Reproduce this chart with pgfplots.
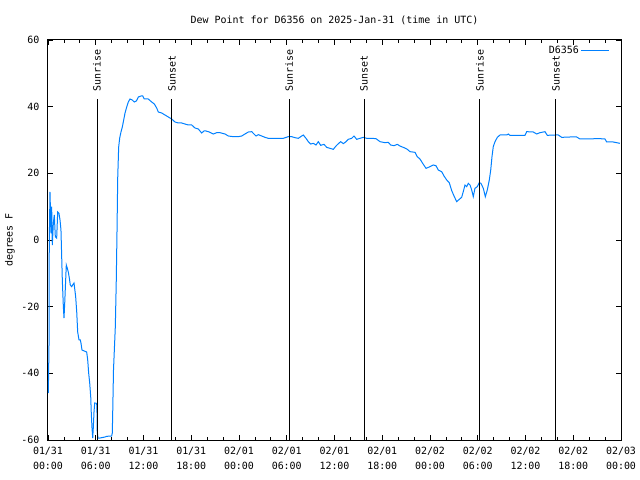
\documentclass[border=0pt]{standalone}
\usepackage{pgfplots}
\pgfplotsset{compat=1.18}
\usepackage{fontspec}
\setmainfont{DejaVu Sans Mono}
\definecolor{gpblue}{RGB}{0,128,255}
\begin{document}
\begin{tikzpicture}
\path[use as bounding box] (-48bp,-40bp) rectangle (592bp,440bp);
\begin{axis}[
  at={(0,0)}, anchor=south west,
  scale only axis, width=573bp, height=400bp,
  xmin=0, xmax=72, ymin=-60, ymax=60,
  xtick={0,6,...,72},
  xticklabels={{01/31\\[3bp]00:00},{01/31\\[3bp]06:00},{01/31\\[3bp]12:00},{01/31\\[3bp]18:00},{02/01\\[3bp]00:00},{02/01\\[3bp]06:00},{02/01\\[3bp]12:00},{02/01\\[3bp]18:00},{02/02\\[3bp]00:00},{02/02\\[3bp]06:00},{02/02\\[3bp]12:00},{02/02\\[3bp]18:00},{02/03\\[3bp]00:00}},
  ytick={-60,-40,-20,0,20,40,60},
  yticklabels={-60,-40,-20,0,20,40,60},
  minor x tick num=2,
  tick align=inside,
  major tick length=5bp, minor tick length=3bp,
  tick style={black, line width=0.8bp},
  axis line style={black, line width=1bp},
  font=\fontsize{10}{12}\selectfont,
  xticklabel style={align=center, font=\fontsize{10}{12}\selectfont, yshift=-4bp},
  yticklabel style={xshift=-5bp},
  title={Dew Point for D6356 on 2025-Jan-31 (time in UTC)},
  title style={at={(0.5,1)}, anchor=base, yshift=11bp, inner sep=0pt},
  ylabel={degrees F},
  every axis y label/.style={at={([xshift=-38bp]axis description cs:0,0.5)}, rotate=90, anchor=center},
  legend style={at={(1,1)}, anchor=north east, xshift=-8bp, yshift=-2bp, draw=none, fill=none, font=\fontsize{10}{12}\selectfont},
  legend plot pos=right,
  legend image code/.code={\draw[#1] (0bp,0bp) -- (28bp,0bp);},
  clip=false,
]
\addplot[gpblue, line width=1bp] table {
x y
0.04 -45.9
0.13 -31
0.16 -1
0.25 14.4
0.38 2
0.46 10
0.54 -1.5
0.67 5
0.79 7.5
0.92 1
1.09 0.6
1.22 8.4
1.38 8
1.51 6
1.63 3
1.72 -5
1.80 -12
1.92 -19.5
2.01 -23.4
2.10 -19
2.22 -12
2.30 -7.5
2.43 -8.5
2.55 -9.6
2.68 -11.4
2.80 -13.5
2.98 -14
3.10 -13.5
3.27 -12.9
3.35 -14.5
3.48 -17.1
3.61 -21.6
3.73 -27.6
3.90 -30
4.06 -30
4.15 -31
4.27 -33
4.56 -33.3
4.86 -33.6
4.99 -36
5.11 -39.9
5.24 -42.9
5.37 -47.1
5.44 -52
5.53 -56.4
5.62 -59.4
5.69 -56.4
5.78 -51.6
5.87 -48.9
6.12 -49
6.16 -52
6.19 -57.6
6.28 -59.4
6.53 -59.4
7.16 -59.1
7.38 -58.9
8.00 -58.8
8.08 -57.9
8.13 -52
8.23 -39
8.46 -26
8.58 -12
8.67 2.4
8.76 18.6
8.88 27.9
9.01 30.6
9.17 32.4
9.34 33.9
9.51 36
9.68 38.1
9.89 39.9
10.09 41.4
10.30 42.3
10.59 42
10.84 41.4
11.10 41.7
11.35 42.9
11.69 43.2
11.90 43.2
12.10 42.3
12.60 42.3
13.03 41.4
13.36 40.8
13.66 39.6
13.86 38.4
14.29 38.1
14.70 37.5
15.12 36.9
15.54 36.3
15.96 35.4
16.37 35.1
16.80 35.1
17.21 34.8
17.63 34.5
18.06 34.5
18.47 33.6
18.89 33.3
19.31 32.1
19.60 32.7
19.85 32.7
20.27 32.4
20.77 31.8
21.20 32.2
21.61 32.2
22.24 31.8
22.66 31.2
23.28 31
23.91 31
24.34 31.2
24.75 31.8
25.17 32.4
25.60 32.5
25.88 31.8
26.14 31.2
26.43 31.6
26.85 31.2
27.27 30.8
27.68 30.5
28.74 30.5
29.57 30.5
30.19 31
30.62 31
31.04 30.7
31.45 30.5
31.88 31.2
32.08 31.5
32.42 30.5
32.71 29.5
33.01 28.8
33.34 29
33.68 28.5
33.96 29.5
34.27 28.4
34.68 28.7
35.02 27.8
35.43 27.5
35.85 27.2
36.19 28.2
36.53 29
36.78 29.5
37.11 28.9
37.45 29.5
37.73 30.2
38.16 30.5
38.45 31.2
38.79 30.2
39.20 30.5
39.62 30.8
40.05 30.5
40.67 30.5
41.21 30.4
41.72 29.5
42.35 29.2
42.76 29.3
43.06 28.5
43.48 28.3
43.89 28.7
44.23 28.2
44.73 27.7
45.15 27.2
45.49 26.5
46.12 26.3
46.40 25
46.74 24.3
47.08 23
47.50 21.5
48.00 22
48.41 22.5
48.75 22.3
49.04 21
49.47 20.5
49.76 19.2
50.10 18
50.42 17.2
50.73 14.8
51.02 13.2
51.35 11.5
51.68 12.2
51.98 12.8
52.18 14.5
52.40 16.5
52.61 16
52.81 17
53.03 16.5
53.24 15
53.44 13
53.65 15.5
53.94 16
54.19 17.2
54.40 17
54.70 15.5
54.95 13
55.20 15
55.45 18
55.63 21
55.79 25
55.95 28
56.17 29.5
56.46 30.8
56.80 31.5
57.64 31.5
57.84 31.8
58.05 31.4
58.89 31.4
59.31 31.4
59.94 31.4
60.15 32.5
60.98 32.4
61.40 31.8
61.82 32.2
62.45 32.5
62.74 31.4
63.71 31.5
64.12 31.5
64.55 30.8
65.59 30.9
66.43 30.9
66.85 30.3
68.10 30.3
68.73 30.4
69.36 30.4
69.99 30.3
70.20 29.4
71.03 29.4
71.87 29
};
\addlegendentry{D6356}
\addplot[black, line width=1bp, forget plot] coordinates {(6.16,-60) (6.16,42.3)};
\addplot[black, line width=1bp, forget plot] coordinates {(15.58,-60) (15.58,42.3)};
\addplot[black, line width=1bp, forget plot] coordinates {(30.3,-60) (30.3,42.3)};
\addplot[black, line width=1bp, forget plot] coordinates {(39.72,-60) (39.72,42.3)};
\addplot[black, line width=1bp, forget plot] coordinates {(54.28,-60) (54.28,42.3)};
\addplot[black, line width=1bp, forget plot] coordinates {(63.83,-60) (63.83,42.3)};
\node[rotate=90, anchor=west, inner sep=0pt] at (axis cs:6.16,44.4) {Sunrise};
\node[rotate=90, anchor=west, inner sep=0pt] at (axis cs:15.58,44.4) {Sunset};
\node[rotate=90, anchor=west, inner sep=0pt] at (axis cs:30.3,44.4) {Sunrise};
\node[rotate=90, anchor=west, inner sep=0pt] at (axis cs:39.72,44.4) {Sunset};
\node[rotate=90, anchor=west, inner sep=0pt] at (axis cs:54.28,44.4) {Sunrise};
\node[rotate=90, anchor=west, inner sep=0pt] at (axis cs:63.83,44.4) {Sunset};
\end{axis}
\end{tikzpicture}
\end{document}
